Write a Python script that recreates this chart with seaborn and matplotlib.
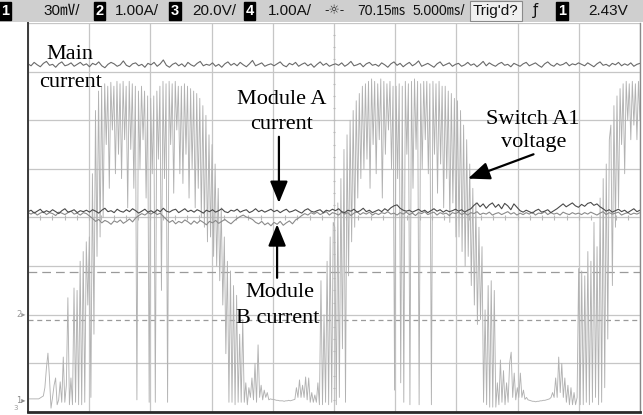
import numpy as np
import pandas as pd
import matplotlib
matplotlib.use("Agg")
import matplotlib.pyplot as plt
from matplotlib.patches import Rectangle
import seaborn as sns

# ---------------------------------------------------------------------------
# Scope screen: 10 horizontal divisions of 5 ms, 8 vertical divisions.
# Trace levels are given in screen divisions (0 = bottom graticule line).
# ---------------------------------------------------------------------------
TIME_SPAN_MS = 50.0
N_DIV_X = 10
N_DIV_Y = 8

# Main current (hundredths of a division), one sample every 0.25 ms
main_current = [
    716, 712, 719, 714, 710, 717, 721, 713, 715, 709, 716, 720, 712, 714, 718, 711, 715, 719, 713, 716,
    710, 717, 714, 720, 712, 708, 715, 719, 716, 711, 714, 722, 713, 710, 716, 718, 712, 715, 709, 717,
    714, 719, 711, 716, 724, 713, 709, 715, 718, 712, 716, 710, 719, 714, 711, 717, 721, 712, 715, 713,
    718, 711, 715, 709, 716, 720, 713, 717, 712, 719, 714, 710, 716, 723, 712, 715, 718, 711, 714, 716,
    712, 716, 720, 713, 710, 717, 714, 719, 711, 715, 718, 712, 716, 709, 715, 720, 713, 717, 711, 714,
    716, 713, 718, 711, 715, 721, 712, 714, 717, 710, 716, 719, 713, 715, 711, 718, 714, 709, 716, 720,
    713, 717, 710, 715, 719, 712, 716, 722, 711, 714, 717, 713, 709, 716, 720, 712, 715, 718, 711, 715,
    717, 711, 714, 719, 713, 716, 710, 715, 721, 712, 718, 714, 711, 716, 719, 713, 715, 710, 717, 714,
    711, 716, 719, 712, 715, 718, 713, 709, 716, 720, 714, 711, 717, 713, 715, 719, 712, 716, 714, 718,
    715, 712, 718, 714, 710, 716, 720, 713, 715, 711, 717, 714, 719, 712, 716, 713, 718, 711, 715, 717,
]

# Module A current (hundredths of a division), one sample every 0.25 ms
module_a_current = [
    412, 415, 409, 413, 417, 410, 414, 411, 416, 412, 408, 414, 418, 411, 413, 416, 410, 414, 412, 415,
    411, 416, 413, 409, 415, 419, 412, 414, 410, 417, 413, 411, 416, 412, 418, 414, 409, 413, 417, 411,
    414, 410, 416, 412, 419, 413, 411, 415, 417, 410, 414, 418, 412, 415, 411, 416, 413, 409, 415, 412,
    416, 411, 414, 418, 412, 410, 415, 413, 417, 411, 414, 416, 410, 413, 418, 412, 415, 411, 414, 417,
    412, 415, 410, 414, 417, 411, 413, 416, 412, 409, 415, 418, 413, 411, 414, 416, 410, 415, 413, 417,
    414, 418, 412, 410, 415, 413, 417, 411, 414, 419, 412, 415, 410, 413, 416, 412, 418, 414, 420, 424,
    426, 419, 415, 413, 415, 411, 414, 417, 412, 415, 410, 414, 418, 413, 416, 411, 415, 412, 414, 417,
    413, 416, 411, 415, 418, 425, 430, 422, 428, 419, 426, 430, 421, 427, 418, 429, 424, 416, 428, 421,
    414, 411, 415, 412, 409, 414, 417, 411, 413, 416, 410, 414, 418, 423, 428, 422, 426, 430, 424, 421,
    427, 423, 429, 431, 425, 428, 422, 418, 413, 416, 411, 414, 417, 412, 415, 410, 414, 418, 412, 415,
]

# Module B current (hundredths of a division), one sample every 0.25 ms
module_b_current = [
    410, 407, 411, 405, 409, 412, 406, 410, 408, 404, 411, 409, 406, 410, 413, 407, 409, 405, 410, 408,
    403, 398, 392, 396, 389, 394, 391, 386, 393, 390, 395, 388, 392, 397, 391, 399, 404, 408, 405, 410,
    407, 411, 406, 409, 402, 396, 390, 394, 387, 392, 389, 395, 391, 386, 393, 388, 394, 390, 385, 392,
    389, 394, 388, 392, 396, 391, 387, 393, 398, 402, 405, 401, 399, 396, 390, 387, 392, 385, 389, 383,
    390, 386, 392, 384, 389, 393, 387, 395, 399, 404, 408, 405, 410, 407, 411, 406, 409, 412, 405, 410,
    408, 405, 411, 407, 410, 404, 409, 412, 406, 410, 407, 411, 405, 409, 406, 410, 408, 412, 407, 409,
    405, 410, 407, 411, 406, 409, 404, 410, 408, 412, 406, 409, 411, 405, 410, 407, 409, 404, 410, 408,
    411, 406, 409, 405, 410, 408, 412, 406, 409, 407, 411, 405, 408, 410, 406, 409, 412, 407, 410, 405,
    409, 406, 410, 407, 411, 405, 409, 408, 412, 406, 410, 407, 409, 405, 411, 408, 406, 410, 407, 409,
    406, 410, 407, 411, 408, 405, 409, 412, 406, 410, 407, 409, 411, 405, 408, 410, 406, 409, 407, 410,
]

# Switch A1 voltage (divisions), one sample every 0.125 ms
switch_a1_voltage = [
    0.27, 0.27, 0.27, 0.27, 0.27, 0.27, 0.27, 0.27, 0.29, 0.31, 0.33, 0.5, 0.9, 1.21, 0.7, 0.08, 0.3, 0.55, 0.7, 0.15,
    0.25, 0.62, 0.2, 1.13, 0.2, 0.55, 2.35, 0.15, 0.7, 0.15, 2.55, 0.2, 2.5, 0.15, 3.1, 0.15, 3.3, 0.2, 3.5, 2.2,
    3.6, 0.3, 4.9, 1.6, 6.2, 3.2, 6.6, 3.6, 6.7, 4.0, 6.75, 5.5, 6.7, 4.6, 6.78, 5.8, 6.7, 4.9, 6.8, 5.3,
    6.75, 4.8, 6.8, 5.6, 6.7, 4.2, 6.8, 5.4, 6.75, 4.6, 6.7, 0.25, 6.6, 5.0, 6.7, 5.6, 6.6, 4.4, 6.5, 0.2,
    6.45, 4.9, 6.5, 0.2, 6.6, 5.2, 6.7, 2.5, 6.8, 4.8, 6.75, 0.2, 6.8, 5.5, 6.75, 4.5, 6.8, 5.8, 6.7, 4.9,
    6.7, 4.7, 6.75, 5.3, 6.7, 4.4, 6.65, 5.0, 6.6, 4.2, 6.55, 4.6, 6.45, 4.0, 6.3, 3.8, 6.1, 3.5, 5.7, 3.6,
    5.5, 3.2, 5.1, 3.0, 4.6, 2.7, 4.2, 2.2, 3.6, 1.2, 3.1, 0.2, 2.9, 0.2, 2.6, 0.15, 2.4, 0.2, 1.6, 0.2,
    1.9, 0.2, 0.6, 0.15, 0.5, 0.3, 0.7, 0.25, 1.0, 0.2, 1.38, 0.3, 0.55, 0.25, 0.45, 0.3, 0.4, 0.25, 0.27, 0.26,
    0.26, 0.25, 0.24, 0.24, 0.23, 0.23, 0.23, 0.22, 0.23, 0.23, 0.24, 0.23, 0.24, 0.25, 0.26, 0.5, 0.3, 0.66, 0.3, 0.55,
    0.3, 0.72, 0.25, 0.7, 0.2, 0.4, 0.2, 0.35, 0.2, 0.6, 0.15, 2.7, 0.15, 2.0, 0.2, 3.1, 0.15, 3.6, 0.2, 3.9,
    3.8, 0.15, 4.3, 0.3, 4.8, 1.3, 5.4, 0.2, 5.7, 2.8, 6.0, 3.5, 6.2, 3.8, 6.4, 4.4, 6.55, 4.8, 6.7, 5.0,
    6.75, 5.2, 6.8, 4.6, 6.85, 5.5, 6.8, 4.9, 6.75, 5.6, 6.85, 4.4, 6.8, 5.3, 6.75, 5.8, 6.8, 5.0, 6.7, 0.45,
    6.7, 4.8, 6.75, 0.6, 6.7, 0.2, 6.8, 5.3, 6.75, 0.15, 6.8, 4.6, 6.85, 5.4, 6.8, 0.15, 6.75, 5.0, 6.8, 5.6,
    6.8, 4.9, 6.75, 0.15, 6.8, 5.3, 6.75, 4.5, 6.8, 5.1, 6.7, 4.2, 6.7, 4.8, 6.6, 3.9, 6.55, 4.3, 6.45, 3.6,
    6.4, 3.6, 6.2, 3.3, 5.9, 3.0, 5.6, 3.2, 5.1, 2.6, 4.6, 2.2, 4.3, 1.8, 3.8, 1.9, 3.4, 0.2, 2.1, 0.15,
    2.6, 0.1, 2.7, 0.1, 2.5, 0.1, 0.6, 0.15, 1.07, 0.2, 0.85, 0.15, 0.6, 0.2, 1.0, 1.23, 0.3, 0.8, 0.25, 0.5,
    0.3, 0.8, 0.3, 0.45, 0.26, 0.3, 0.25, 0.24, 0.23, 0.22, 0.22, 0.21, 0.22, 0.22, 0.23, 0.23, 0.24, 0.24, 0.25, 0.26,
    0.27, 0.3, 0.4, 0.3, 0.7, 0.3, 1.13, 0.4, 1.0, 0.3, 0.7, 0.2, 0.55, 0.15, 0.5, 0.15, 0.4, 0.15, 0.3, 2.95,
    0.15, 2.9, 0.15, 2.8, 0.2, 3.3, 0.15, 3.1, 0.2, 3.9, 0.3, 3.4, 0.15, 4.4, 0.2, 4.8, 0.5, 5.1, 1.5, 5.6,
    5.9, 2.6, 6.3, 3.8, 6.5, 4.2, 6.65, 5.5, 6.75, 4.9, 6.8, 6.0, 6.75, 5.6, 6.8, 5.9, 6.75, 5.6, 6.8, 6.0,
]

# Horizontal cursor lines (divisions)
cursor_levels = [2.88, 1.89]
cursor_dashes = [(7, 4), (4, 3)]

# Status bar along the top of the screen
channel_scales = [("1", "30\u33b7/"), ("2", "1.00A/"), ("3", "20.0V/"), ("4", "1.00A/")]
time_delay = "70.15\u33b3"
time_scale = "5.000\u33b3/"
trigger_state = "Trig'd?"
trigger_source = "1"
trigger_level = "2.43V"

# Annotations: (text, time ms, level div)
labels = [
    ("Main", 3.45, 7.26),
    ("current", 3.45, 6.69),
    ("Module A", 20.7, 6.34),
    ("current", 20.7, 5.82),
    ("Module", 20.6, 2.36),
    ("B current", 20.4, 1.84),
    ("Switch A1", 41.2, 5.92),
    ("voltage", 41.35, 5.45),
]
# Arrows: (tail time, tail level, head time, head level)
arrows = [
    (20.5, 5.66, 20.5, 4.30),
    (20.35, 2.76, 20.35, 3.86),
    (41.3, 5.30, 35.95, 4.80),
]

W, H = 643, 415
sns.set_theme(style="white")
plt.rcParams["font.family"] = ["Liberation Sans", "Noto Sans CJK JP", "DejaVu Sans"]

fig = plt.figure(figsize=(W / 100, H / 100), dpi=100)
fig.patch.set_facecolor("white")

ax_left, ax_right, ax_top, ax_bottom = 28, 640, 23, 412
ax = fig.add_axes([ax_left / W, (H - ax_bottom) / H,
                   (ax_right - ax_left) / W, (ax_bottom - ax_top) / H])
ax.set_facecolor("white")


def trace_frame(values, scale, name):
    v = np.asarray(values, dtype=float) * scale
    t = np.linspace(0, TIME_SPAN_MS, len(v))
    return pd.DataFrame({"time_ms": t, "level": v, "trace": name})


volt = trace_frame(switch_a1_voltage, 1.0, "Switch A1 voltage")
ib = trace_frame(module_b_current, 0.01, "Module B current")
ia = trace_frame(module_a_current, 0.01, "Module A current")
im = trace_frame(main_current, 0.01, "Main current")

# graticule
ax.set_xlim(0, TIME_SPAN_MS)
ax.set_ylim(0, N_DIV_Y)
ax.set_xticks(np.linspace(0, TIME_SPAN_MS, N_DIV_X + 1))
ax.set_yticks(np.arange(0, N_DIV_Y + 1))
ax.grid(True, color="#c6c6c6", linewidth=0.9)
ax.tick_params(length=0, labelbottom=False, labelleft=False)

# minor ticks on the centre cross
xc = TIME_SPAN_MS / 2
yc = N_DIV_Y / 2
ax.hlines(np.arange(0, N_DIV_Y, 0.25), xc - 0.12, xc + 0.12, color="#b8b8b8", lw=0.8)
ax.vlines(np.arange(0, TIME_SPAN_MS, 1.0), yc - 0.06, yc + 0.06, color="#b8b8b8", lw=0.8)

for lvl, dash in zip(cursor_levels, cursor_dashes):
    ax.axhline(lvl, color="#9a9a9a", lw=0.9, dashes=dash)

sns.lineplot(data=volt, x="time_ms", y="level", ax=ax, color="#b2b2b2",
             linewidth=0.65, estimator=None, sort=False, legend=False)
sns.lineplot(data=ib, x="time_ms", y="level", ax=ax, color="#8a8a8a",
             linewidth=0.8, estimator=None, sort=False, legend=False)
sns.lineplot(data=ia, x="time_ms", y="level", ax=ax, color="#4a4a4a",
             linewidth=0.8, estimator=None, sort=False, legend=False)
sns.lineplot(data=im, x="time_ms", y="level", ax=ax, color="#6a6a6a",
             linewidth=0.8, estimator=None, sort=False, legend=False)
ax.set_xlabel("")
ax.set_ylabel("")

ax.spines["top"].set_visible(False)
ax.spines["left"].set_color("#3a3a3a")
ax.spines["left"].set_linewidth(1.4)
ax.spines["bottom"].set_color("#2a2a2a")
ax.spines["bottom"].set_linewidth(2.0)
ax.spines["right"].set_color("#8a8a8a")
ax.spines["right"].set_linewidth(1.0)

for text, x, y in labels:
    ax.text(x, y, text, ha="center", va="baseline", fontsize=16,
            family=["Liberation Serif", "DejaVu Serif"], color="black", zorder=5)

for x0, y0, x1, y1 in arrows:
    ax.annotate("", xy=(x1, y1), xytext=(x0, y0),
                arrowprops=dict(arrowstyle="-|>,head_length=1.1,head_width=0.45",
                                color="black", lw=1.6, shrinkA=0, shrinkB=0),
                zorder=6)

# status bar
fig.add_artist(Rectangle((0, 1 - 22 / H), 1, 22 / H, transform=fig.transFigure,
                         facecolor="#cfcfcf", edgecolor="none", zorder=0))
bar_y = 1 - 11 / H
hdr_font = dict(fontsize=11, color="#111111", va="center")
time_font = dict(fontsize=10, color="#111111", va="center")
box_style = dict(boxstyle="square,pad=0.12", facecolor="black", edgecolor="black")
box_x = [5, 99.5, 175, 249.5]
txt_x = [43, 115, 192, 268]
for (num, scale), bx, tx in zip(channel_scales, box_x, txt_x):
    fig.text(bx / W, bar_y, num, ha="center", color="white", fontsize=10.5,
             va="center", fontweight="bold", bbox=box_style)
    fig.text(tx / W, bar_y, scale, ha="left", **hdr_font)
fig.text(334 / W, bar_y, "-\u263c-", ha="center", family=["DejaVu Sans"],
         fontsize=9, color="#222222", va="center")
fig.text(357 / W, bar_y, time_delay, ha="left", **time_font)
fig.text(412 / W, bar_y, time_scale, ha="left", **time_font)
fig.text(496 / W, bar_y, trigger_state, ha="center", fontsize=11, color="#111111",
         va="center", bbox=dict(boxstyle="square,pad=0.2", facecolor="#f0f0f0",
                                edgecolor="#8a8a8a", linewidth=0.8))
fig.text(535 / W, bar_y, "\u0192", ha="center", family=["DejaVu Sans"],
         fontsize=10.5, color="#111111", va="center")
fig.text(562 / W, bar_y, trigger_source, ha="center", color="white", fontsize=10.5,
         va="center", fontweight="bold", bbox=box_style)
fig.text(588 / W, bar_y, trigger_level, ha="left", **hdr_font)

# channel ground markers at the left edge
fig.text(21 / W, 1 - 314 / H, "2\u25b8", ha="center", va="center",
         fontsize=6, color="#9a9a9a", family=["DejaVu Sans"])
fig.text(21 / W, 1 - 400 / H, "1\u25b8", ha="center", va="center",
         fontsize=6, color="#8a8a8a", family=["DejaVu Sans"])
fig.text(16 / W, 1 - 408 / H, "3", ha="center", va="center",
         fontsize=5, color="#9a9a9a", family=["DejaVu Sans"])

fig.savefig("out.png", dpi=100, facecolor="white")
